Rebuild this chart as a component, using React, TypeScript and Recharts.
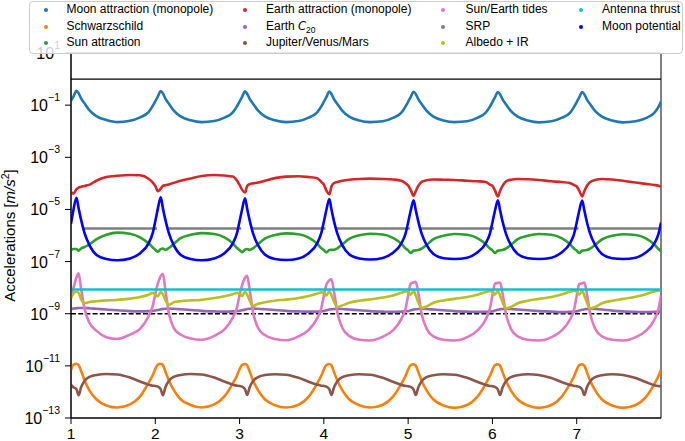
import React from 'react';
import { LineChart, Line, XAxis, YAxis, ReferenceArea } from 'recharts';

// x positions (orbit time), 14 samples per period plus the right edge
const DAYS = [
  1, 1.03, 1.065, 1.09, 1.12, 1.16, 1.22, 1.3, 1.42, 1.55, 1.7, 1.82, 1.92, 1.97,
  2, 2.03, 2.065, 2.09, 2.12, 2.16, 2.22, 2.3, 2.42, 2.55, 2.7, 2.82, 2.92, 2.97,
  3, 3.03, 3.065, 3.09, 3.12, 3.16, 3.22, 3.3, 3.42, 3.55, 3.7, 3.82, 3.92, 3.97,
  4, 4.03, 4.065, 4.09, 4.12, 4.16, 4.22, 4.3, 4.42, 4.55, 4.7, 4.82, 4.92, 4.97,
  5, 5.03, 5.065, 5.09, 5.12, 5.16, 5.22, 5.3, 5.42, 5.55, 5.7, 5.82, 5.92, 5.97,
  6, 6.03, 6.065, 6.09, 6.12, 6.16, 6.22, 6.3, 6.42, 6.55, 6.7, 6.82, 6.92, 6.97,
  7, 7.03, 7.065, 7.09, 7.12, 7.16, 7.22, 7.3, 7.42, 7.55, 7.7, 7.82, 7.92, 7.97,
  8,
];

// all values below are log10 of the acceleration in m/s^2
const MOON_ATTRACTION = [
  -0.83, -0.66, -0.45, -0.54, -0.74, -0.93, -1.2, -1.42, -1.57, -1.65, -1.6, -1.47, -1.27, -1.03,
  -0.85, -0.67, -0.46, -0.55, -0.75, -0.94, -1.21, -1.43, -1.58, -1.65, -1.61, -1.48, -1.28, -1.04,
  -0.86, -0.68, -0.47, -0.56, -0.76, -0.95, -1.21, -1.43, -1.58, -1.65, -1.61, -1.48, -1.28, -1.05,
  -0.87, -0.69, -0.48, -0.57, -0.77, -0.96, -1.22, -1.44, -1.59, -1.65, -1.62, -1.49, -1.29, -1.05,
  -0.87, -0.69, -0.49, -0.57, -0.77, -0.96, -1.22, -1.44, -1.59, -1.65, -1.62, -1.49, -1.29, -1.06,
  -0.88, -0.7, -0.5, -0.58, -0.78, -0.97, -1.23, -1.44, -1.59, -1.66, -1.62, -1.49, -1.3, -1.06,
  -0.88, -0.7, -0.5, -0.58, -0.78, -0.97, -1.23, -1.44, -1.59, -1.66, -1.62, -1.5, -1.3, -1.07,
  -0.86,
];

const SCHWARZSCHILD = [
  -11.16, -10.95, -10.92, -10.97, -11.2, -11.55, -11.95, -12.28, -12.52, -12.6, -12.48, -12.17, -11.65, -11.35,
  -11.12, -10.95, -10.92, -10.97, -11.22, -11.55, -11.93, -12.28, -12.5, -12.6, -12.48, -12.17, -11.67, -11.37,
  -11.13, -10.96, -10.93, -10.98, -11.22, -11.56, -11.94, -12.28, -12.51, -12.6, -12.49, -12.18, -11.68, -11.37,
  -11.14, -10.96, -10.93, -10.98, -11.23, -11.56, -11.94, -12.28, -12.51, -12.6, -12.49, -12.18, -11.68, -11.38,
  -11.14, -10.97, -10.94, -10.99, -11.23, -11.57, -11.95, -12.29, -12.52, -12.61, -12.5, -12.19, -11.69, -11.38,
  -11.15, -10.97, -10.94, -10.99, -11.24, -11.57, -11.95, -12.29, -12.52, -12.61, -12.5, -12.19, -11.69, -11.39,
  -11.15, -10.97, -10.94, -10.99, -11.24, -11.57, -11.95, -12.29, -12.52, -12.61, -12.5, -12.2, -11.7, -11.39,
  -11.15,
];

const SUN_ATTRACTION = [
  -6.56, -6.52, -6.52, -6.58, -6.5, -6.44, -6.34, -6.15, -5.97, -5.89, -5.93, -6.07, -6.3, -6.46,
  -6.55, -6.62, -6.52, -6.5, -6.55, -6.48, -6.32, -6.1, -5.97, -5.91, -5.94, -6.07, -6.3, -6.48,
  -6.56, -6.64, -6.54, -6.52, -6.55, -6.49, -6.33, -6.12, -5.98, -5.92, -5.95, -6.08, -6.31, -6.49,
  -6.56, -6.65, -6.56, -6.55, -6.55, -6.49, -6.34, -6.13, -5.99, -5.93, -5.96, -6.09, -6.32, -6.5,
  -6.57, -6.67, -6.58, -6.57, -6.56, -6.5, -6.36, -6.14, -6.01, -5.94, -5.97, -6.1, -6.33, -6.5,
  -6.57, -6.67, -6.58, -6.57, -6.56, -6.5, -6.36, -6.14, -6.01, -5.94, -5.97, -6.1, -6.33, -6.51,
  -6.58, -6.67, -6.58, -6.57, -6.56, -6.5, -6.36, -6.15, -6.01, -5.95, -5.98, -6.11, -6.34, -6.52,
  -6.6,
];

const EARTH_ATTRACTION = [
  -4.32, -4.4, -4.22, -4.16, -4.13, -4.1, -4.05, -3.9, -3.76, -3.71, -3.68, -3.69, -3.82, -3.97,
  -4.1, -4.3, -4.2, -4.1, -4.07, -4.04, -3.98, -3.9, -3.81, -3.72, -3.68, -3.7, -3.74, -3.9,
  -4.06, -4.25, -4.35, -4.1, -4.03, -4.0, -3.97, -3.9, -3.8, -3.74, -3.73, -3.76, -3.8, -3.95,
  -4.05, -4.28, -4.42, -4.12, -3.99, -3.95, -3.9, -3.86, -3.83, -3.82, -3.83, -3.85, -3.9, -4.0,
  -4.08, -4.25, -4.48, -4.3, -4.1, -3.94, -3.88, -3.85, -3.86, -3.87, -3.9, -3.92, -3.95, -4.05,
  -4.1, -4.27, -4.5, -4.3, -4.1, -3.93, -3.86, -3.83, -3.84, -3.87, -3.92, -3.95, -3.99, -4.07,
  -4.12, -4.28, -4.5, -4.3, -4.1, -3.95, -3.87, -3.83, -3.85, -3.9, -3.97, -4.02, -4.06, -4.09,
  -4.13,
];

const EARTH_C20 = [
  -8.82, -8.8, -8.79, -8.78, -8.78, -8.78, -8.79, -8.81, -8.84, -8.87, -8.9, -8.91, -8.9, -8.89,
  -8.88, -8.86, -8.83, -8.82, -8.81, -8.8, -8.81, -8.83, -8.86, -8.89, -8.91, -8.92, -8.91, -8.9,
  -8.89, -8.87, -8.84, -8.82, -8.81, -8.8, -8.81, -8.83, -8.86, -8.89, -8.91, -8.92, -8.92, -8.91,
  -8.9, -8.87, -8.84, -8.83, -8.82, -8.81, -8.82, -8.84, -8.87, -8.9, -8.92, -8.93, -8.92, -8.91,
  -8.9, -8.87, -8.84, -8.83, -8.82, -8.81, -8.82, -8.84, -8.87, -8.9, -8.92, -8.93, -8.93, -8.92,
  -8.91, -8.88, -8.85, -8.83, -8.82, -8.81, -8.82, -8.84, -8.87, -8.9, -8.92, -8.94, -8.93, -8.92,
  -8.91, -8.88, -8.85, -8.83, -8.82, -8.81, -8.82, -8.84, -8.88, -8.91, -8.93, -8.94, -8.93, -8.92,
  -8.91,
];

const JUPITER_VENUS_MARS = [
  -11.73, -11.82, -11.9, -12.13, -11.82, -11.58, -11.42, -11.35, -11.31, -11.33, -11.45, -11.6, -11.72, -11.76,
  -11.77, -11.8, -11.9, -12.13, -11.82, -11.58, -11.42, -11.35, -11.31, -11.33, -11.45, -11.6, -11.72, -11.76,
  -11.77, -11.8, -11.9, -12.12, -11.82, -11.58, -11.43, -11.35, -11.32, -11.34, -11.46, -11.61, -11.72, -11.76,
  -11.77, -11.8, -11.9, -12.12, -11.83, -11.59, -11.43, -11.36, -11.32, -11.34, -11.46, -11.61, -11.73, -11.77,
  -11.78, -11.81, -11.91, -12.12, -11.83, -11.59, -11.43, -11.36, -11.32, -11.34, -11.46, -11.61, -11.73, -11.77,
  -11.78, -11.81, -11.91, -12.12, -11.83, -11.59, -11.43, -11.36, -11.32, -11.35, -11.47, -11.62, -11.73, -11.77,
  -11.78, -11.81, -11.91, -12.12, -11.83, -11.59, -11.43, -11.36, -11.32, -11.35, -11.47, -11.62, -11.74, -11.77,
  -11.78,
];

const SUN_EARTH_TIDES = [
  -8.35, -8.0, -7.6, -7.45, -8.05, -8.8, -9.35, -9.65, -9.9, -9.97, -9.8, -9.58, -9.1, -8.7,
  -8.25, -7.85, -7.55, -7.47, -8.09, -8.97, -9.55, -9.8, -9.95, -10.0, -9.85, -9.6, -9.15, -8.75,
  -8.28, -7.9, -7.62, -7.55, -8.1, -8.95, -9.55, -9.82, -9.97, -10.02, -9.87, -9.62, -9.18, -8.78,
  -8.3, -7.88, -7.72, -7.68, -8.15, -8.95, -9.55, -9.85, -10.0, -10.03, -9.88, -9.64, -9.2, -8.8,
  -8.3, -7.85, -7.8, -7.78, -8.2, -9.0, -9.58, -9.87, -10.0, -10.03, -9.9, -9.65, -9.22, -8.8,
  -8.3, -7.85, -7.82, -7.8, -8.22, -9.0, -9.58, -9.87, -10.0, -10.03, -9.9, -9.65, -9.22, -8.82,
  -8.32, -7.86, -7.83, -7.8, -8.22, -9.0, -9.58, -9.87, -10.0, -10.03, -9.9, -9.66, -9.23, -8.82,
  -8.3,
];

const ALBEDO_IR = [
  -8.41, -8.22, -8.16, -8.2, -8.45, -8.6, -8.55, -8.52, -8.49, -8.47, -8.42, -8.36, -8.27, -8.2,
  -8.27, -8.33, -8.17, -8.25, -8.47, -8.66, -8.56, -8.52, -8.49, -8.47, -8.4, -8.33, -8.25, -8.2,
  -8.23, -8.32, -8.16, -8.27, -8.5, -8.7, -8.62, -8.56, -8.5, -8.46, -8.4, -8.32, -8.23, -8.18,
  -8.2, -8.3, -8.14, -8.28, -8.53, -8.74, -8.68, -8.58, -8.5, -8.45, -8.38, -8.3, -8.2, -8.15,
  -8.17, -8.27, -8.12, -8.3, -8.55, -8.78, -8.72, -8.58, -8.49, -8.43, -8.36, -8.27, -8.17, -8.13,
  -8.16, -8.27, -8.12, -8.3, -8.56, -8.8, -8.74, -8.6, -8.5, -8.43, -8.36, -8.26, -8.16, -8.12,
  -8.16, -8.27, -8.12, -8.3, -8.56, -8.8, -8.74, -8.6, -8.5, -8.43, -8.35, -8.25, -8.15, -8.12,
  -8.1,
];

const MOON_POTENTIAL = [
  -5.55, -5.0, -4.55, -4.95, -5.4, -5.9, -6.38, -6.74, -6.9, -6.95, -6.88, -6.68, -6.3, -5.9,
  -5.45, -4.98, -4.53, -4.95, -5.4, -5.9, -6.38, -6.74, -6.9, -6.95, -6.88, -6.68, -6.3, -5.9,
  -5.45, -5.0, -4.57, -4.97, -5.42, -5.92, -6.38, -6.73, -6.9, -6.94, -6.88, -6.68, -6.3, -5.9,
  -5.47, -5.02, -4.6, -5.0, -5.45, -5.93, -6.38, -6.72, -6.88, -6.92, -6.86, -6.66, -6.3, -5.92,
  -5.5, -5.05, -4.65, -5.02, -5.46, -5.93, -6.37, -6.71, -6.87, -6.9, -6.85, -6.65, -6.3, -5.93,
  -5.5, -5.05, -4.65, -5.02, -5.46, -5.93, -6.37, -6.71, -6.87, -6.9, -6.85, -6.65, -6.3, -5.93,
  -5.5, -5.05, -4.66, -5.03, -5.47, -5.94, -6.37, -6.71, -6.87, -6.9, -6.85, -6.65, -6.31, -5.94,
  -5.5,
];

// SRP is constant but switched off in eclipse; these are the lit arcs
const SRP_LEVEL = -5.73;
const SRP_ARCS = [[1.15, 2.02], [2.14, 3.02], [3.14, 4.02], [4.14, 5.02], [5.14, 6.02], [6.14, 7.02], [7.14, 8]];
const ANTENNA_THRUST = -8.07;
const SOLID_REF = 0;
const DASHED_REF = -9;

const X_TICKS = [1, 2, 3, 4, 5, 6, 7];
const Y_TICK_EXP = [1, -1, -3, -5, -7, -9, -11, -13];

const NAMES = [
  'Moon attraction (monopole)', 'Schwarzschild', 'Sun attraction',
  'Earth attraction (monopole)', 'Earth C20', 'Jupiter/Venus/Mars',
  'Sun/Earth tides', 'SRP', 'Albedo + IR',
  'Antenna thrust', 'Moon potential',
];
const COLORS = [
  '#1f77b4', '#ff7f0e', '#2ca02c', '#d62728', '#9467bd', '#8c564b',
  '#e377c2', '#7f7f7f', '#bcbd22', '#17becf', '#0000ff',
];

const FONT = '"Liberation Sans", Arial, sans-serif';
const acc = (e: number) => 10 ** e;

const table = DAYS.map((x, i) => ({
  x,
  moonAttraction: acc(MOON_ATTRACTION[i]),
  schwarzschild: acc(SCHWARZSCHILD[i]),
  sunAttraction: acc(SUN_ATTRACTION[i]),
  earthAttraction: acc(EARTH_ATTRACTION[i]),
  earthC20: acc(EARTH_C20[i]),
  planets: acc(JUPITER_VENUS_MARS[i]),
  tides: acc(SUN_EARTH_TIDES[i]),
  albedo: acc(ALBEDO_IR[i]),
  moonPotential: acc(MOON_POTENTIAL[i]),
}));

const srpData = SRP_ARCS.flatMap(([a, b]) => [
  { x: a, v: acc(SRP_LEVEL) },
  { x: b, v: acc(SRP_LEVEL) },
  { x: b, v: null },
]);
const flat = (e: number) => [{ x: 1, v: acc(e) }, { x: 8, v: acc(e) }];

const PowTick = (props: any) => {
  const { x, y, payload } = props;
  const e = Math.round(Math.log10(payload.value));
  const sup = e < 0 ? `\u2212${-e}` : `${e}`;
  return (
    <text x={x} y={y + 6} textAnchor="end" fill="#000" fontFamily={FONT} fontSize={16}>
      10<tspan dy={-10} fontSize={10.5}>{sup}</tspan>
    </text>
  );
};

const YLabel = () => (
  <text transform="translate(14.5,235.5) rotate(-90)" textAnchor="middle" fontFamily={FONT} fontSize={15} fill="#000">
    Accelerations [<tspan fontStyle="italic">m/s</tspan>
    <tspan dy={-6} fontSize={10.5}>2</tspan>
    <tspan dy={6}>]</tspan>
  </text>
);

const LegendBox = () => {
  const dotX = [46, 244.5, 443, 581];
  const textX = [66.5, 266, 465.5, 602];
  const rowY = [10, 26.5, 43];
  return (
    <>
      <div
        style={{
          position: 'absolute', left: 29, top: 1, width: 654, height: 53, boxSizing: 'border-box',
          border: '1px solid #cccccc', borderRadius: 4, background: 'rgba(255,255,255,0.8)',
        }}
      />
      {NAMES.map((name, i) => {
        const c = Math.floor(i / 3);
        const r = i % 3;
        return (
          <React.Fragment key={name}>
            <div
              style={{
                position: 'absolute', left: dotX[c] - 2, top: rowY[r] - 2, width: 4, height: 4,
                borderRadius: 2, background: COLORS[i],
              }}
            />
            <div
              style={{
                position: 'absolute', left: textX[c], top: rowY[r] - 8, fontSize: 12, lineHeight: '15px',
                fontFamily: FONT, color: '#000', whiteSpace: 'nowrap',
              }}
            >
              {name === 'Earth C20' ? (
                <span>
                  Earth <i style={{ fontFamily: '"DejaVu Sans", sans-serif', fontSize: 11.5 }}>C</i>
                  <sub style={{ fontSize: 8.5, verticalAlign: -3 }}>20</sub>
                </span>
              ) : (
                name
              )}
            </div>
          </React.Fragment>
        );
      })}
    </>
  );
};

const SERIES_KEYS = [
  'moonAttraction', 'schwarzschild', 'sunAttraction', 'earthAttraction', 'earthC20',
  'planets', 'tides', 'srp', 'albedo', 'antenna', 'moonPotential',
];

export default function App() {
  return (
    <div style={{ position: 'absolute', left: 0, top: 0, width: 685, height: 441, background: '#fff' }}>
      <LineChart width={685} height={441} data={table} margin={{ top: 53, right: 24, bottom: 0, left: 0 }}>
        <XAxis
          dataKey="x"
          type="number"
          domain={[1, 8]}
          ticks={X_TICKS}
          allowDataOverflow
          height={23}
          tickSize={6}
          tickMargin={4}
          stroke="#000"
          tick={{ fill: '#000', fontSize: 15.5, fontFamily: FONT }}
        />
        <YAxis
          type="number"
          scale="log"
          domain={[1e-13, 10]}
          ticks={Y_TICK_EXP.map(acc)}
          allowDataOverflow
          width={71}
          tickSize={6}
          tickMargin={5}
          stroke="#000"
          tick={<PowTick />}
          label={<YLabel />}
        />
        <ReferenceArea x1={1} x2={8} y1={1e-13} y2={10} fill="none" stroke="#000" strokeWidth={1} ifOverflow="visible" />
        <Line data={flat(SOLID_REF)} dataKey="v" stroke="#000" strokeWidth={1.2} dot={false} activeDot={false} isAnimationActive={false} />
        <Line data={flat(DASHED_REF)} dataKey="v" stroke="#000" strokeWidth={1.4} strokeDasharray="5 2.2" dot={false} activeDot={false} isAnimationActive={false} />
        {SERIES_KEYS.map((key, i) => {
          const extra =
            key === 'srp' ? { data: srpData, dataKey: 'v' } :
            key === 'antenna' ? { data: flat(ANTENNA_THRUST), dataKey: 'v' } :
            { dataKey: key };
          return (
            <Line
              key={key}
              {...extra}
              name={NAMES[i]}
              type="monotone"
              stroke={COLORS[i]}
              strokeWidth={2.6}
              dot={false}
              activeDot={false}
              connectNulls={false}
              isAnimationActive={false}
            />
          );
        })}
      </LineChart>
      <LegendBox />
    </div>
  );
}
